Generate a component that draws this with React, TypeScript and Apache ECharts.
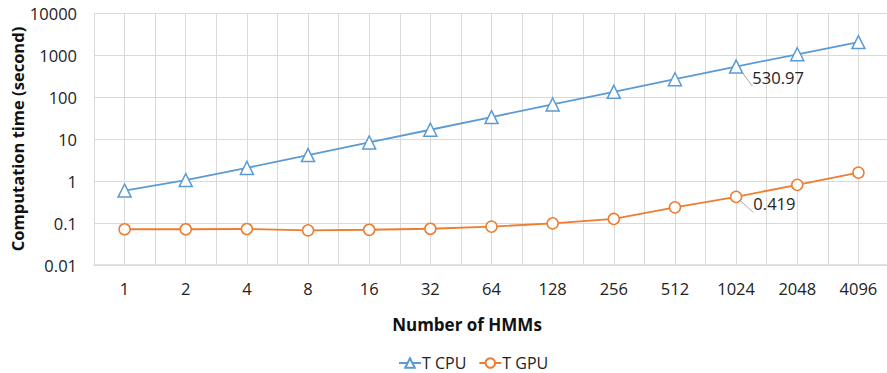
import React, { useEffect, useRef } from "react";
import * as echarts from "echarts";

const categories = ["1", "2", "4", "8", "16", "32", "64", "128", "256", "512", "1024", "2048", "4096"];
const cpuValues = [0.59, 1.05, 2.05, 4.15, 8.3, 16.6, 33.2, 66.4, 133, 265, 530.97, 1040, 2030];
const gpuValues = [0.071, 0.071, 0.072, 0.067, 0.069, 0.073, 0.082, 0.098, 0.125, 0.236, 0.419, 0.81, 1.58];
const yTicks = ["0.01", "0.1", "1", "10", "100", "1000", "10000"];
const annotatedIndex = 10;
const xTitle = "Number of HMMs";
const yTitle = "Computation time (second)";

const FONT = "'Open Sans', 'Noto Sans', sans-serif";
const GRID = "#d9d9d9";

export default function App() {
  const ref = useRef<HTMLDivElement>(null);
  useEffect(() => {
    if (!ref.current) return;
    const chart = echarts.init(ref.current, undefined, { renderer: "svg" });
    const mkLabel = (offset: number[]) => ({
      show: true,
      position: "right",
      offset,
      formatter: "{c}",
      fontFamily: FONT,
      fontSize: 16.5,
      color: "#222",
    });
    const cpuData = cpuValues.map((v, i) =>
      i === annotatedIndex ? { value: v, label: mkLabel([4, 11]) } : v
    );
    const gpuData = gpuValues.map((v, i) =>
      i === annotatedIndex ? { value: v, label: mkLabel([6, 7]) } : v
    );
    chart.setOption({
      animation: false,
      textStyle: { fontFamily: FONT },
      grid: { left: 94, right: -2, top: 13, bottom: 108, containLabel: false, outerBoundsMode: "none" },
      graphic: [
        {
          type: "text",
          x: 467,
          y: 324,
          style: {
            text: xTitle,
            fontFamily: FONT,
            fontSize: 17,
            fontWeight: "bold",
            fill: "#111",
            align: "center",
            verticalAlign: "middle",
          },
        },
        {
          type: "text",
          x: 17,
          y: 139,
          rotation: Math.PI / 2,
          style: {
            text: yTitle,
            fontFamily: FONT,
            fontSize: 16.5,
            fontWeight: "bold",
            fill: "#111",
            align: "center",
            verticalAlign: "middle",
          },
        },
      ],
      xAxis: [
        {
          type: "category",
          data: categories,
          boundaryGap: true,
          axisLine: { show: true, lineStyle: { color: GRID, width: 1.5 } },
          axisTick: { show: false },
          axisLabel: { fontFamily: FONT, fontSize: 16.5, color: "#222", margin: 15 },
          splitLine: { show: false },
        },
        {
          type: "value",
          min: 0,
          max: 13,
          interval: 0.5,
          show: true,
          position: "bottom",
          axisLine: { show: false },
          axisTick: { show: false },
          axisLabel: { show: false },
          splitLine: { show: true, lineStyle: { color: GRID, width: 1 } },
        },
      ],
      yAxis: {
        type: "log",
        logBase: 10,
        min: 0.01,
        max: 10000,
        axisLine: { show: false },
        axisTick: { show: false },
        axisLabel: {
          fontFamily: FONT,
          fontSize: 16.5,
          color: "#222",
          margin: 17,
          formatter: (v: number) => {
            const idx = Math.round(Math.log10(v)) + 2;
            return yTicks[idx] ?? String(v);
          },
        },
        splitLine: { show: true, lineStyle: { color: GRID, width: 1 } },
      },
      legend: {
        top: 350,
        left: 393,
        itemGap: 12,
        itemWidth: 22,
        itemHeight: 12,
        textStyle: { fontFamily: FONT, fontSize: 16, color: "#222", padding: [0, 0, 0, -4] },
        data: ["T CPU", "T GPU"],
      },
      series: [
        {
          name: "T CPU",
          type: "line",
          xAxisIndex: 0,
          data: cpuData,
          symbol: "triangle",
          symbolSize: 13,
          lineStyle: { color: "#5b9bd5", width: 1.8 },
          itemStyle: { color: "#fff", borderColor: "#5b9bd5", borderWidth: 1.5 },
          labelLine: { show: true, lineStyle: { color: "#aaa" } },
        },
        {
          name: "T GPU",
          type: "line",
          xAxisIndex: 0,
          data: gpuData,
          symbol: "circle",
          symbolSize: 11,
          lineStyle: { color: "#ed7d31", width: 1.8 },
          itemStyle: { color: "#fff", borderColor: "#ed7d31", borderWidth: 1.5 },
          labelLine: { show: true, lineStyle: { color: "#aaa" } },
        },
      ],
    });
    return () => chart.dispose();
  }, []);
  return <div ref={ref} style={{ width: 887, height: 373, position: "absolute", left: 0, top: 0 }} />;
}
